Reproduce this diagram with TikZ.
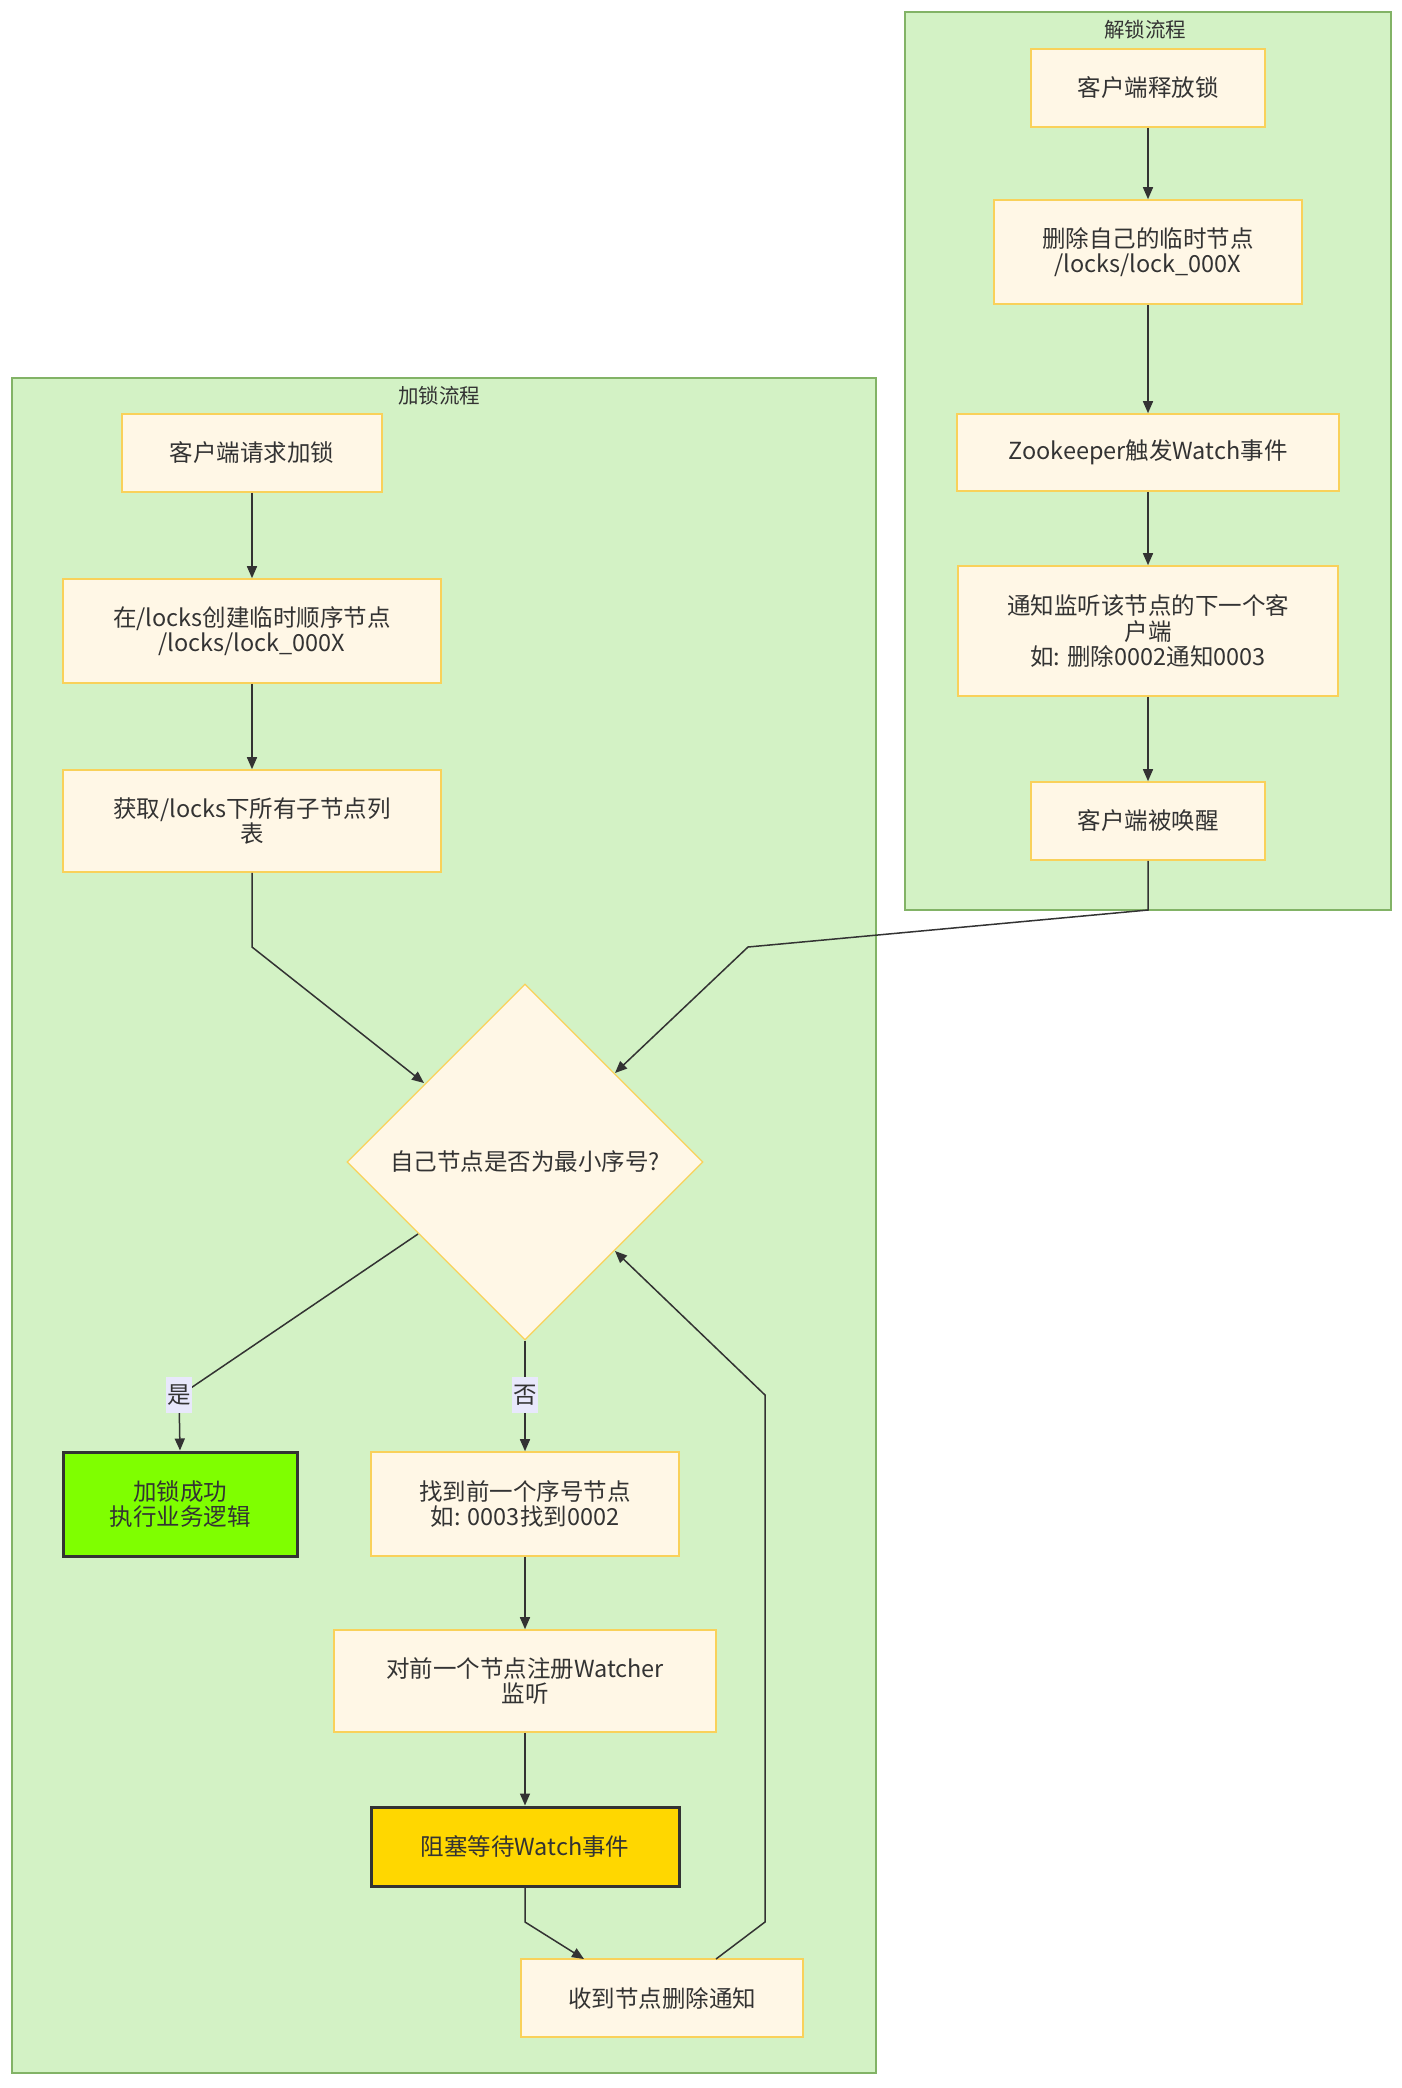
\documentclass[tikz,border=0pt]{standalone}
\usepackage{fontspec}
\setmainfont{Noto Sans CJK SC}
\usetikzlibrary{arrows.meta,shapes.geometric}
\definecolor{clfill}{HTML}{D3F2C5}
\definecolor{clline}{HTML}{82B366}
\definecolor{ndfill}{HTML}{FFF7E6}
\definecolor{ndline}{HTML}{F9D15A}
\definecolor{edge}{HTML}{333333}
\definecolor{lblfill}{HTML}{E8E8FC}
\definecolor{okfill}{HTML}{7FFF00}
\definecolor{waitfill}{HTML}{FFD700}
\tikzset{
  every node/.style={font=\fontsize{23.5}{25.5}\selectfont, text=edge},
  cluster/.style={draw=clline, fill=clfill, line width=1.6pt},
  procbox/.style={draw=ndline, fill=ndfill, line width=1.6pt, align=center, inner sep=0pt},
  strongbox/.style={draw=edge, line width=3pt, align=center, inner sep=0pt},
  decide/.style={diamond, draw=ndline, fill=ndfill, line width=1.2pt, inner sep=0pt, minimum width=356pt, minimum height=356pt, aspect=1},
  conn/.style={draw=edge, line width=1.5pt, -{Triangle[length=12pt,width=10pt]}},
  plainconn/.style={draw=edge, line width=1.5pt},
  edgelbl/.style={fill=lblfill, inner sep=1pt, minimum width=21pt, minimum height=36pt},
  ctitle/.style={font=\fontsize{20.5}{24}\selectfont}
}
\newcommand{\boxat}[7]{% name, style, x1, y1, x2, y2, text
  \node[#2, minimum width={#5-#3}, minimum height={#6-#4}] (#1) at ({(#3+#5)/2},{(#4+#6)/2}) {#7};}
\begin{document}
\begin{tikzpicture}[x=1pt,y=-1pt]
\useasboundingbox (0,0) rectangle (1402,2088);
\fill[white] (0,0) rectangle (1402,2088);
% clusters
\draw[cluster] (905,12) rectangle (1391,910);
\node[ctitle] (t2) at (1145,30) {解锁流程};
\draw[cluster] (12,378) rectangle (876,2073);
\node[ctitle] (t1) at (439,396) {加锁流程};
% right cluster nodes
\boxat{r1}{procbox}{1031}{49}{1265}{127}{客户端释放锁}
\boxat{r2}{procbox}{994}{200}{1302}{304}{删除自己的临时节点\\/locks/lock\_000X}
\boxat{r3}{procbox}{957}{414}{1339}{491}{Zookeeper触发Watch事件}
\boxat{r4}{procbox}{958}{566}{1338}{696}{通知监听该节点的下一个客\\户端\\如: 删除0002通知0003}
\boxat{r5}{procbox}{1031}{782}{1265}{860}{客户端被唤醒}
% left cluster nodes
\boxat{l1}{procbox}{122}{414}{382}{492}{客户端请求加锁}
\boxat{l2}{procbox}{63}{579}{441}{683}{在/locks创建临时顺序节点\\/locks/lock\_000X}
\boxat{l3}{procbox}{63}{770}{441}{872}{获取/locks下所有子节点列\\表}
\node[decide] (d) at (525,1162) {};
\node (dtxt) at (525,1162) {自己节点是否为最小序号?};
\boxat{ok}{strongbox, fill=okfill}{63}{1452}{297}{1556}{加锁成功\\执行业务逻辑}
\boxat{l4}{procbox}{371}{1452}{679}{1556}{找到前一个序号节点\\如: 0003找到0002}
\boxat{l5}{procbox}{334}{1630}{716}{1732}{对前一个节点注册Watcher\\监听}
\boxat{l6}{strongbox, fill=waitfill}{371}{1807}{679}{1886}{阻塞等待Watch事件}
\boxat{l7}{procbox}{521}{1959}{803}{2037}{收到节点删除通知}
% right cluster edges
\draw[conn] (r1) -- (r2);
\draw[conn] (r2) -- (r3);
\draw[conn] (r3) -- (r4);
\draw[conn] (r4) -- (r5);
\coordinate (ra) at (1148,910);
\coordinate (rb) at (748,947);
\draw[conn] (r5.south) -- (ra) -- (rb) -- (615,1073);
% left cluster edges
\draw[conn] (l1) -- (l2);
\draw[conn] (l2) -- (l3);
\coordinate (la) at (252,947);
\draw[conn] (l3.south) -- (la) -- (424,1083);
% yes branch
\coordinate (ya) at (179,1396);
\draw[plainconn] (418,1234) -- (ya);
\draw[conn] (ya) -- (ok.north);
\node[edgelbl] (yl) at (179,1395) {是};
% no branch
\draw[conn] (d.south) -- (l4.north);
\node[edgelbl] (nl) at (525,1395) {否};
\draw[conn] (l4) -- (l5);
\draw[conn] (l5) -- (l6);
\coordinate (wa) at (525,1922);
\draw[conn] (l6.south) -- (wa) -- (584,1959);
\coordinate (ba) at (765,1922);
\coordinate (bb) at (765,1395);
\draw[conn] (716,1959) -- (ba) -- (bb) -- (615,1251);
\end{tikzpicture}
\end{document}
